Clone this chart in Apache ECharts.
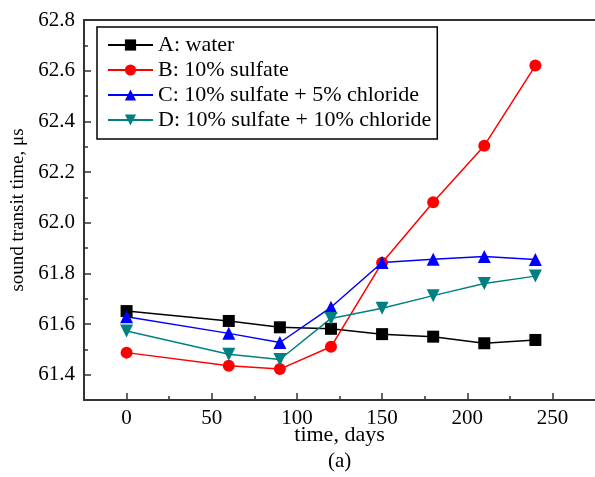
<!DOCTYPE html>
<html>
<head>
<meta charset="utf-8">
<script src="https://cdn.jsdelivr.net/npm/echarts@6/dist/echarts.min.js"></script>
<style>html,body{margin:0;padding:0;background:#fff;}#c{width:595px;height:477px;}</style>
</head>
<body>
<div id="c"></div>
<script>
const days = [0, 60, 90, 120, 150, 180, 210, 240];
const seriesA = [61.651, 61.612, 61.587, 61.581, 61.560, 61.550, 61.524, 61.537];
const seriesB = [61.487, 61.435, 61.422, 61.510, 61.842, 62.081, 62.304, 62.620];
const seriesC = [61.629, 61.563, 61.527, 61.666, 61.843, 61.856, 61.866, 61.855];
const seriesD = [61.572, 61.481, 61.460, 61.622, 61.662, 61.712, 61.760, 61.789];
const names = ['A: water', 'B: 10% sulfate', 'C: 10% sulfate + 5% chloride', 'D: 10% sulfate + 10% chloride'];
const xMajor = [0, 50, 100, 150, 200, 250];
const xMinor = [25, 75, 125, 175, 225];
const yMajor = [61.4, 61.6, 61.8, 62.0, 62.2, 62.4, 62.6, 62.8];
const yMinor = [61.5, 61.7, 61.9, 62.1, 62.3, 62.5, 62.7];

const FONT = 'Liberation Serif';
const AX = '#333';
const chart = echarts.init(document.getElementById('c'), null, {renderer: 'canvas'});
const zip = arr => days.map((d, i) => [d, arr[i]]);
const mk = (name, data, color, symbol, size, rot) => ({
  name, type: 'line', data: zip(data), xAxisIndex: 0, yAxisIndex: 0,
  symbol, symbolSize: size, symbolRotate: rot || 0,
  itemStyle: {color}, lineStyle: {color, width: 1.5}, emphasis: {disabled: true}, animation: false
});
const baseX = {type: 'value', min: -25, max: 275};
const baseY = {type: 'value', min: 61.3, max: 62.8};
chart.setOption({
  animation: false,
  grid: {left: 84, top: 20, width: 517, height: 380, containLabel: false},
  legend: {
    orient: 'vertical', left: 97, top: 27, padding: [7, 6, 8, 10],
    itemWidth: 45, itemHeight: 14, itemGap: 3,
    borderColor: '#000', borderWidth: 1.5, backgroundColor: '#fff',
    textStyle: {fontFamily: FONT, fontSize: 22, color: '#000'},
    data: names
  },
  xAxis: [
    Object.assign({}, baseX, {
      position: 'bottom',
      name: 'time, days', nameLocation: 'middle', nameGap: 24, nameMoveOverlap: false,
      nameTextStyle: {fontFamily: FONT, fontSize: 22, color: '#000'},
      axisLine: {show: true, onZero: false, lineStyle: {color: AX, width: 2}},
      axisTick: {show: true, inside: true, length: 7, customValues: xMajor, lineStyle: {color: AX, width: 1.5}},
      axisLabel: {show: true, customValues: xMajor, margin: 8, fontFamily: FONT, fontSize: 21, color: '#000'},
      splitLine: {show: false}
    }),
    Object.assign({}, baseX, {
      position: 'bottom',
      axisLine: {show: false, onZero: false},
      axisTick: {show: true, inside: true, length: 4, customValues: xMinor, lineStyle: {color: AX, width: 1.5}},
      axisLabel: {show: false}, splitLine: {show: false}
    }),
    Object.assign({}, baseX, {
      position: 'top',
      axisLine: {show: true, onZero: false, lineStyle: {color: AX, width: 2}},
      axisTick: {show: false}, axisLabel: {show: false}, splitLine: {show: false}
    })
  ],
  yAxis: [
    Object.assign({}, baseY, {
      position: 'left',
      name: 'sound transit time, \u03bcs', nameLocation: 'middle', nameGap: 56, nameMoveOverlap: false,
      nameTextStyle: {fontFamily: FONT, fontSize: 19, color: '#000'},
      axisLine: {show: true, onZero: false, lineStyle: {color: AX, width: 2}},
      axisTick: {show: true, inside: true, length: 7, customValues: yMajor, lineStyle: {color: AX, width: 1.5}},
      axisLabel: {show: true, customValues: yMajor, margin: 9, fontFamily: FONT, fontSize: 21, color: '#000',
        formatter: v => Number(v).toFixed(1)},
      splitLine: {show: false}
    }),
    Object.assign({}, baseY, {
      position: 'left',
      axisLine: {show: false, onZero: false},
      axisTick: {show: true, inside: true, length: 4, customValues: yMinor, lineStyle: {color: AX, width: 1.5}},
      axisLabel: {show: false}, splitLine: {show: false}
    })
  ],
  graphic: [{
    type: 'text', left: 328, top: 451,
    style: {text: '(a)', fontFamily: FONT, fontSize: 21, fill: '#000'}
  }],
  series: [
    mk(names[0], seriesA, '#000000', 'rect', 12),
    mk(names[1], seriesB, '#ff0000', 'circle', 12),
    mk(names[2], seriesC, '#0000ff', 'triangle', 13),
    mk(names[3], seriesD, '#008080', 'triangle', 13, 180)
  ]
});
</script>
</body>
</html>
